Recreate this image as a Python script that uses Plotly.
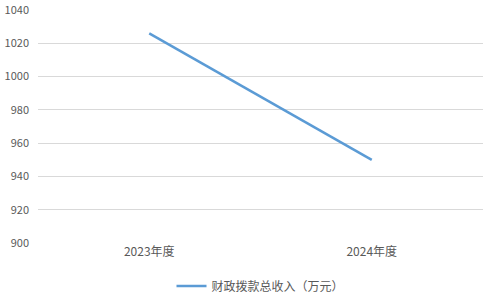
import plotly.graph_objects as go

categories = ["2023年度", "2024年度"]
values = [1026, 950]
series_name = "财政拨款总收入（万元）"
y_ticks = [900, 920, 940, 960, 980, 1000, 1020, 1040]

fig = go.Figure()
fig.add_trace(go.Scatter(
    x=[0, 1], y=values, mode="lines", name=series_name,
    line=dict(color="#5b9bd5", width=2.5),
))
fig.update_layout(
    width=504, height=304,
    margin=dict(l=38, r=21, t=10, b=61, autoexpand=False),
    paper_bgcolor="white", plot_bgcolor="white",
    font=dict(family="Noto Sans CJK SC, sans-serif", size=11, color="#595959"),
    showlegend=True,
    legend=dict(orientation="h", x=0.5, xanchor="center", y=-0.185, yanchor="middle",
                font=dict(size=12, color="#595959")),
)
fig.update_xaxes(range=[-0.5, 1.5], tickvals=[0, 1], ticktext=categories,
                 showgrid=False, zeroline=False, showline=False, ticks="",
                 tickfont=dict(size=12), automargin=False)
fig.update_yaxes(range=[900, 1040], tickvals=y_ticks, showgrid=True,
                 gridcolor="#d9d9d9", gridwidth=1, zeroline=False, showline=False,
                 ticks="", ticklabelstandoff=8, automargin=False)
fig.write_html("out.html")
